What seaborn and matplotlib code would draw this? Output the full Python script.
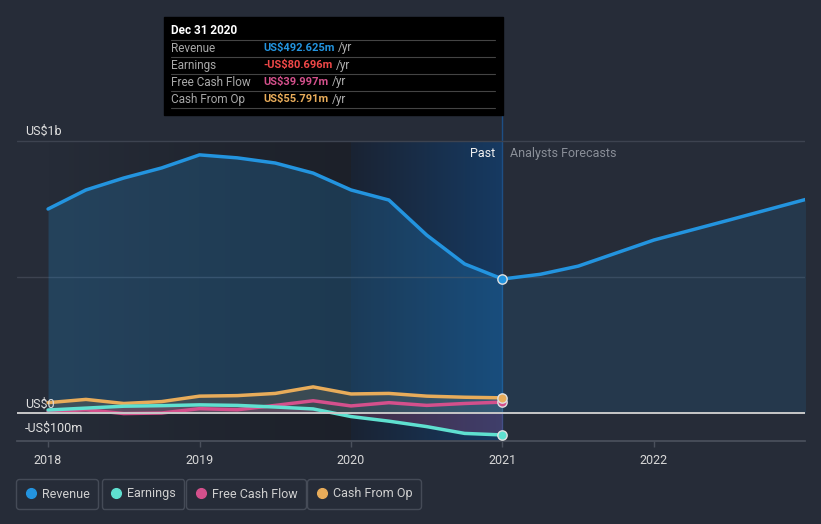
import numpy as np
import pandas as pd
import seaborn as sns
import matplotlib.pyplot as plt
from matplotlib.lines import Line2D
from matplotlib.patches import Rectangle

# past figures, quarterly (US$ m)
past_years = [2018.0, 2018.25, 2018.5, 2018.75, 2019.0, 2019.25, 2019.5, 2019.75,
              2020.0, 2020.25, 2020.5, 2020.75, 2021.0]
revenue = [750, 820, 864, 901, 949, 938, 919, 882, 820, 783, 654, 548, 492.625]
earnings = [11, 18, 25, 27, 30, 28, 22, 15, -13, -30, -50, -75, -80.696]
free_cash_flow = [5, 12, -2, 0, 16, 12, 28, 45, 26, 38, 28, 35, 39.997]
cash_from_op = [38, 50, 35, 42, 62, 64, 72, 96, 70, 72, 62, 58, 55.791]

# analyst revenue forecast
fc_years = [2021.0, 2021.25, 2021.5, 2022.0, 2022.5, 2023.0]
fc_revenue = [492.625, 510, 540, 636, 710, 785]

tick_years = [2018, 2019, 2020, 2021, 2022]

bg = '#262c38'
c_rev = '#2394df'
c_earn = '#5fe0d0'
c_fcf = '#d4508c'
c_cfo = '#e8ac5a'

sns.set_theme(style='dark')
plt.rcParams['font.family'] = ['Roboto', 'DejaVu Sans']

fig = plt.figure(figsize=(8.21, 5.24), dpi=100, facecolor=bg)
ax = fig.add_axes([17 / 821, 83 / 524, 788 / 821, 326 / 524])
ax.set_facecolor(bg)

x0, x1 = 2017.795, 2022.997
y0, y1 = -102.9, 1095.6
ax.set_xlim(x0, x1)
ax.set_ylim(y0, y1)

# shaded past regions
grad = np.linspace(0, 1, 256).reshape(1, -1)
ax.imshow(grad, extent=(2018, 2020, y0, 1000), aspect='auto', zorder=0,
          cmap=sns.blend_palette([bg, '#1c2029'], as_cmap=True))
ax.imshow(grad, extent=(2020, 2021, y0, 1000), aspect='auto', zorder=0,
          cmap=sns.blend_palette(['#1a2333', '#163a62'], as_cmap=True))
ax.axvline(2021, color='#1d4f85', lw=1, zorder=1)

# grid lines
for v in [1000, 500]:
    ax.axhline(v, color='#3d4350', lw=1, zorder=1)
ax.axhline(0, color='#c8c8c8', lw=1.4, zorder=4)
for s in ['top', 'right', 'left']:
    ax.spines[s].set_visible(False)
ax.spines['bottom'].set_color('#4a505c')

# fills
ax.fill_between(past_years, revenue, 0, color=c_rev, alpha=0.22, lw=0, zorder=2)
ax.fill_between(fc_years, fc_revenue, 0, color=c_rev, alpha=0.12, lw=0, zorder=2)
ax.fill_between(past_years, cash_from_op, 0, color=c_cfo, alpha=0.14, lw=0, zorder=2)
ax.fill_between(past_years, earnings, 0, color=c_fcf, alpha=0.22, lw=0, zorder=2)

# lines
df = pd.DataFrame({'year': past_years, 'Revenue': revenue, 'Earnings': earnings,
                   'Free Cash Flow': free_cash_flow, 'Cash From Op': cash_from_op})
sns.lineplot(data=df, x='year', y='Cash From Op', color=c_cfo, lw=2.5, ax=ax, zorder=3)
sns.lineplot(data=df, x='year', y='Free Cash Flow', color=c_fcf, lw=2.5, ax=ax, zorder=3)
sns.lineplot(data=df, x='year', y='Earnings', color=c_earn, lw=2.5, ax=ax, zorder=3)
sns.lineplot(data=df, x='year', y='Revenue', color=c_rev, lw=2.5, ax=ax, zorder=3)
sns.lineplot(x=fc_years, y=fc_revenue, color=c_rev, lw=2.5, ax=ax, zorder=3)

for vals, c in [(revenue, c_rev), (earnings, c_earn), (free_cash_flow, c_fcf), (cash_from_op, c_cfo)]:
    ax.scatter([past_years[-1]], [vals[-1]], s=45, color=c, edgecolor='#e0e0e0',
               lw=1, zorder=6)

ax.set_xlabel('')
ax.set_ylabel('')
ax.set_xticks(tick_years)
ax.set_xticklabels([str(t) for t in tick_years])
ax.set_yticks([])
ax.tick_params(axis='x', colors='#4a505c', labelcolor='#d8d8d8', labelsize=9,
               length=4, width=1, direction='out', pad=5, bottom=True)

# value labels
ax.text(2017.848, 1010, 'US$1b', color='#e0e0e0', fontsize=9, va='bottom')
ax.text(2017.848, 8, 'US$0', color='#e0e0e0', fontsize=9, va='bottom')
ax.text(2017.848, -58, '-US$100m', color='#e0e0e0', fontsize=9, va='center')
ax.text(2020.95, 955, 'Past', color='#f0f0f0', fontsize=9, ha='right', va='center')
ax.text(2021.05, 955, 'Analysts Forecasts', color='#8a8f98', fontsize=9, ha='left', va='center')

# tooltip box
fig.patches.append(Rectangle((164 / 821, 1 - 115 / 524), 339 / 821, 98 / 524,
                             transform=fig.transFigure, color='black', zorder=10))
fig.text(171 / 821, 1 - 31 / 524, 'Dec 31 2020', color='white', fontsize=8.5,
         fontweight='bold', va='center', zorder=11)
rows = [('Revenue', 'US$492.625m', c_rev), ('Earnings', '-US$80.696m', '#f04848'),
        ('Free Cash Flow', 'US$39.997m', c_fcf), ('Cash From Op', 'US$55.791m', c_cfo)]
renderer = fig.canvas.get_renderer()
for i, (lab, val, c) in enumerate(rows):
    yy = 1 - (48 + 17 * i) / 524
    fig.add_artist(Line2D([171 / 821, 495 / 821], [yy + 8.5 / 524] * 2,
                          color='#444', lw=0.8, zorder=11))
    fig.text(171 / 821, yy, lab, color='#a8a8a8', fontsize=8.5, va='center', zorder=11)
    t = fig.text(263 / 821, yy, val, color=c, fontsize=8, fontweight='bold',
                 va='center', zorder=11)
    right = t.get_window_extent(renderer).x1
    fig.text((right + 4) / 821, yy, '/yr', color='#b0b0b0', fontsize=8.5,
             va='center', zorder=11)
fig.add_artist(Line2D([171 / 821, 495 / 821], [1 - 108.5 / 524] * 2,
                      color='#444', lw=0.8, zorder=11))

# legend boxes
legend_items = [('Revenue', c_rev, 57), ('Earnings', c_earn, 143),
                ('Free Cash Flow', c_fcf, 246), ('Cash From Op', c_cfo, 364)]
for lab, c, cx in legend_items:
    h = Line2D([], [], marker='o', ls='', color=c, markersize=7)
    lg = fig.legend([h], [lab], loc='center', bbox_to_anchor=(cx / 821, 1 - 494 / 524),
                    frameon=True, fontsize=9, handletextpad=0.4, borderpad=0.65,
                    handlelength=1.0, labelcolor='#d0d0d0')
    lg.get_frame().set_facecolor(bg)
    lg.get_frame().set_edgecolor('#4d535f')
    lg.get_frame().set_linewidth(1)

fig.savefig('out.png', dpi=100, facecolor=bg)
